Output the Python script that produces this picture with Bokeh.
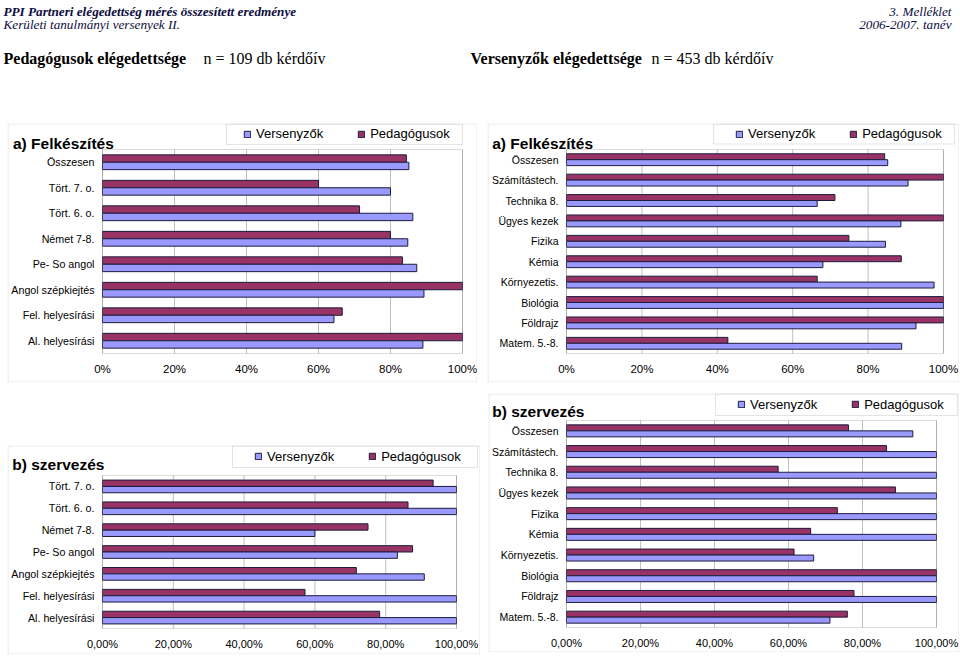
from bokeh.plotting import figure
from bokeh.models import (Range1d, FixedTicker, Legend, LegendItem,
                          Label, BoxAnnotation, Spacer, ColumnDataSource)
from bokeh.transform import dodge
from bokeh.layouts import column, row
from bokeh.core.properties import value
from bokeh.embed import file_html
from bokeh.resources import INLINE

# ---------------- data ----------------
series_names = ["Versenyzők", "Pedagógusok"]

cats_left_a = ["Összesen", "Tört. 7. o.", "Tört. 6. o.", "Német 7-8.", "Pe- So angol",
               "Angol szépkiejtés", "Fel. helyesírási", "Al. helyesírási"]
ped_left_a = [84.4, 60.0, 71.4, 80.0, 83.3, 100.0, 66.6, 100.0]
vers_left_a = [85.1, 80.0, 86.2, 84.8, 87.3, 89.3, 64.3, 89.0]

cats_right = ["Összesen", "Számítástech.", "Technika 8.", "Ügyes kezek", "Fizika", "Kémia",
              "Környezetis.", "Biológia", "Földrajz", "Matem. 5.-8."]
ped_right_a = [84.4, 100.0, 71.2, 100.0, 74.9, 88.8, 66.5, 100.0, 100.0, 42.8]
vers_right_a = [85.2, 90.6, 66.5, 88.7, 84.6, 68.0, 97.5, 100.0, 92.7, 88.9]

cats_left_b = ["Tört. 7. o.", "Tört. 6. o.", "Német 7-8.", "Pe- So angol",
               "Angol szépkiejtés", "Fel. helyesírási", "Al. helyesírási"]
ped_left_b = [93.4, 86.3, 75.0, 87.6, 71.7, 57.2, 78.3]
vers_left_b = [100.0, 100.0, 60.0, 83.3, 90.9, 100.0, 100.0]

ped_right_b = [76.2, 86.5, 57.2, 88.9, 73.2, 66.0, 61.5, 100.0, 77.7, 75.9]
vers_right_b = [93.6, 100.0, 100.0, 100.0, 100.0, 100.0, 66.8, 100.0, 100.0, 71.2]

tick_values = [0, 20, 40, 60, 80, 100]
tick_labels_a = ["0%", "20%", "40%", "60%", "80%", "100%"]
tick_labels_b = ["0,00%", "20,00%", "40,00%", "60,00%", "80,00%", "100,00%"]

title_a = "a) Felkészítés"
title_b = "b) szervezés"

header_line1 = "PPI Partneri elégedettség mérés összesített eredménye"
header_line2 = "Kerületi tanulmányi versenyek II."
header_right1 = "3. Melléklet"
header_right2 = "2006-2007. tanév"
head_ped = "Pedagógusok elégedettsége"
head_ped_n = "n = 109 db kérdőív"
head_vers = "Versenyzők elégedettsége"
head_vers_n = "n = 453 db kérdőív"

# ---------------- style ----------------
PED_COLOR = "#993366"
VERS_COLOR = "#9999FF"
EDGE = "#1c1c3c"
BORDER = "#a6a6a6"
FRAME = "#8c8c8c"
GRID = "#c0c0c0"
SANS = "Liberation Sans"
SERIF = "Liberation Serif"
HEAD_COLOR = "#0d0d40"


def make_chart(cats, ped, vers, title, tick_labels, W, H, ml, mr, mt, mb,
               tick_size, cat_size, legend_box, legend_x, title_pos):
    # ml/mr/mt/mb: pixel distances of the plot area from the chart-area edges
    n = len(cats)
    fw = W - ml - mr
    fh = H - mt - mb
    sx = 100.0 / fw          # data units per px (x)
    sy = n / fh              # data units per px (y)
    ytop = n + 0.5           # plot-area top in data units
    ybot = 0.5               # plot-area bottom in data units

    def dx(cx):
        return (cx - ml) * sx

    def dy(cy):
        return ytop - (cy - mt) * sy

    pos = list(range(n, 0, -1))   # first category on top
    src = ColumnDataSource(dict(cat=cats, pos=pos, ped=ped, vers=vers))
    p = figure(width=W, height=H,
               x_range=Range1d(dx(0), dx(W)), y_range=Range1d(dy(H), dy(0)),
               output_backend="svg", toolbar_location=None, min_border=0)
    p.background_fill_color = "white"
    p.border_fill_color = "white"
    p.outline_line_color = None
    p.grid.visible = False

    # plot area background + vertical grid lines
    p.quad(left=[tick_values[0]], right=[tick_values[-1]], bottom=[ybot], top=[ytop],
           fill_color="white", line_color=None)
    p.segment(x0=tick_values, x1=tick_values, y0=[ybot] * len(tick_values),
              y1=[ytop] * len(tick_values), line_color=GRID, line_width=1)

    rp = p.hbar(y=dodge("pos", 0.145), left=0, right="ped", height=0.29,
                source=src, fill_color=PED_COLOR, line_color=EDGE, line_width=1)
    rv = p.hbar(y=dodge("pos", -0.145), left=0, right="vers", height=0.29,
                source=src, fill_color=VERS_COLOR, line_color=EDGE, line_width=1)

    # plot-area border
    p.add_layout(BoxAnnotation(left=tick_values[0], right=tick_values[-1], bottom=ybot, top=ytop,
                               fill_alpha=0, line_color=FRAME, line_width=1))

    p.xaxis.ticker = FixedTicker(ticks=tick_values)
    p.xaxis.major_label_overrides = dict(zip(tick_values, tick_labels))
    p.xaxis.fixed_location = ybot
    p.yaxis.ticker = FixedTicker(ticks=pos)
    p.yaxis.major_label_overrides = dict(zip(pos, cats))
    p.yaxis.fixed_location = 0
    for ax in (p.xaxis, p.yaxis):
        ax.axis_line_color = None
        ax.major_tick_line_color = None
        ax.minor_tick_line_color = None
        ax.major_tick_in = 0
        ax.major_tick_out = 0
        ax.minor_tick_in = 0
        ax.minor_tick_out = 0
        ax.major_label_text_font = SANS
        ax.major_label_text_color = "black"
    p.xaxis.major_label_text_font_size = tick_size
    p.xaxis.major_label_standoff = 9
    p.yaxis.major_label_text_font_size = cat_size
    p.yaxis.major_label_standoff = 8

    # legend frame
    lx0, lx1, ly0, ly1 = legend_box
    p.add_layout(BoxAnnotation(left=dx(lx0), right=dx(lx1), top=dy(ly0), bottom=dy(ly1),
                               fill_alpha=0, line_color=BORDER, line_width=1))
    item_h = 16
    center = (ly0 + ly1) / 2.0
    ly = H - center - item_h / 2.0
    legend = Legend(items=[LegendItem(label=series_names[0], renderers=[rv]),
                           LegendItem(label=series_names[1], renderers=[rp])],
                    location=(legend_x, ly), orientation="horizontal",
                    glyph_width=8, glyph_height=8, label_standoff=5, spacing=34,
                    padding=0, margin=0, label_height=item_h,
                    border_line_alpha=0, background_fill_alpha=0,
                    label_text_font=SANS, label_text_font_size="13px",
                    label_text_color="black")
    p.add_layout(legend)

    # chart area border
    p.add_layout(BoxAnnotation(left=dx(0.5), right=dx(W - 0.5), top=dy(0.5), bottom=dy(H - 0.5),
                               fill_alpha=0, line_color=BORDER, line_width=1))
    tx, ty = title_pos
    p.add_layout(Label(x=dx(tx), y=dy(ty), text=title, text_font=SANS,
                       text_font_style="bold", text_font_size="15.5px",
                       text_baseline="alphabetic", text_align="left", text_color="black"))
    return p


tl = make_chart(cats_left_a, ped_left_a, vers_left_a, title_a, tick_labels_a,
                W=470, H=259, ml=95, mr=15, mt=26, mb=29, tick_size="11.5px", cat_size="10.7px",
                legend_box=(219, 455, 0.5, 21), legend_x=236, title_pos=(5.5, 20))
tr = make_chart(cats_right, ped_right_a, vers_right_a, title_a, tick_labels_a,
                W=472, H=259, ml=79, mr=16, mt=26, mb=29, tick_size="11.5px", cat_size="10.5px",
                legend_box=(226, 467, 0.5, 20.5), legend_x=248, title_pos=(4.7, 19.5))
bl = make_chart(cats_left_b, ped_left_b, vers_left_b, title_b, tick_labels_b,
                W=473, H=209, ml=95, mr=24, mt=30, mb=26, tick_size="11px", cat_size="10.7px",
                legend_box=(225, 470, 0.5, 22), legend_x=247, title_pos=(4.7, 18.5))
br = make_chart(cats_right, ped_right_b, vers_right_b, title_b, tick_labels_b,
                W=471, H=259, ml=78, mr=23, mt=27, mb=25, tick_size="11px", cat_size="10.5px",
                legend_box=(227, 469, 0.5, 22), legend_x=249, title_pos=(3.7, 18.3))

# ---------------- header ----------------
HW, HH = 960, 123
hdr = figure(width=HW, height=HH, x_range=Range1d(0, HW), y_range=Range1d(HH, 0),
             output_backend="svg", toolbar_location=None, min_border=0,
             x_axis_type=None, y_axis_type=None)
hdr.grid.visible = False
hdr.outline_line_color = None
hdr.background_fill_color = "white"
hdr.border_fill_color = "white"


def htext(x, y, txt, size, style, align="left", color="black"):
    hdr.text(x=[x], y=[y], text=[txt], text_font=value(SERIF), text_font_size=size,
             text_font_style=style, text_align=align, text_baseline="alphabetic",
             text_color=color)


htext(3, 10.5, header_line1, "13.2px", "bold italic", color=HEAD_COLOR)
htext(3, 23.5, header_line2, "13.2px", "italic", color=HEAD_COLOR)
htext(951, 10.5, header_right1, "13.2px", "italic", align="right", color=HEAD_COLOR)
htext(951, 23.5, header_right2, "13.2px", "italic", align="right", color=HEAD_COLOR)
htext(3, 57.5, head_ped, "16px", "bold")
htext(203, 57.5, head_ped_n, "16px", "normal")
htext(470, 57.5, head_vers, "16px", "bold")
htext(651, 57.5, head_vers_n, "16px", "normal")

layout = column(
    hdr,
    row(Spacer(width=7, height=259), tl, Spacer(width=10, height=259), tr),
    Spacer(width=959, height=11),
    row(Spacer(width=7, height=261), column(Spacer(width=473, height=52), bl),
        Spacer(width=8, height=261), br),
)

open("out.html", "w").write(file_html(layout, INLINE))
